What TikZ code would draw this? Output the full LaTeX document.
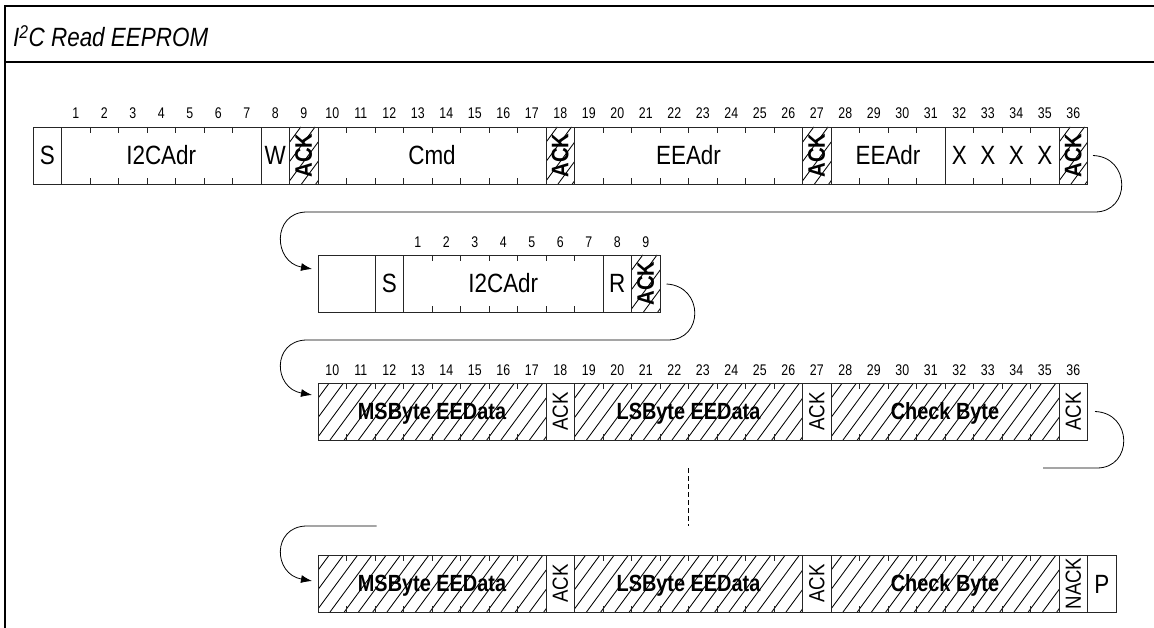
\documentclass[tikz,border=0pt]{standalone}
\usepackage{fontspec}
\usepackage{graphicx}
\usetikzlibrary{arrows.meta}
\newfontfamily\nf[FakeStretch=0.85]{Liberation Sans}
\newfontfamily\nfn[FakeStretch=0.8]{Liberation Sans}

% field cell: name, first bit, last bit, top y, text, style
\newcommand\fld[6]{%
  \node[cellbox,#6,minimum width={28.5bp*(#3-#2+1)}] (#1) at ({33+14.25*(#2+#3+1)},{#4+28.5}) {#5};}
% bit ticks inside a field: first bit, last bit, top y
\newcommand\bitticks[3]{%
  \pgfmathtruncatemacro\tfirst{#1+1}%
  \foreach \b in {\tfirst,...,#2} {%
    \draw[tick] ({33+28.5*\b},#3) -- ++(0,6);
    \draw[tick] ({33+28.5*\b},{#3+57}) -- ++(0,-6);
  }}
% hatching: first bit, last bit, top y
\newcommand\hatch[3]{%
  \begin{scope}
    \clip ({33+28.5*#1},#3) rectangle ({33+28.5*(#2+1)},{#3+57});
    \foreach \k in {0,...,24}
      \draw[hatchline] ({33+28.5*#1-45+14.25*\k},{#3+57}) -- ++(42,-57);
  \end{scope}}

\begin{document}
\begin{tikzpicture}[x=1bp,y=-1bp,
  cellbox/.style={draw=black!85, line width=0.9bp, inner sep=0pt, minimum height=57bp},
  lbl/.style={font=\nf\fontsize{26.5}{26.5}\selectfont, text height=19bp, text depth=0pt},
  blbl/.style={font=\nf\bfseries\fontsize{23.5}{23.5}\selectfont, text height=16.8bp, text depth=0pt},
  ackr/.style={font=\nf\fontsize{22}{22}\selectfont},
  ackb/.style={font=\nf\bfseries\fontsize{24}{24}\selectfont},
  num/.style={font=\nfn\fontsize{15.5}{15.5}\selectfont, text height=11bp, text depth=0pt, inner sep=0pt},
  tick/.style={draw=black!85, line width=0.9bp},
  hatchline/.style={draw=black, line width=0.85bp},
  conn/.style={draw=black, line width=0.8bp},
  arr/.style={-{Latex[length=11bp,width=8bp]}},
  frame/.style={draw=black, line width=2bp}]
\useasboundingbox (0,0) rectangle (1154,628);

% frame and title
\draw[frame] (5,628) -- (5,6.5) -- (1154,6.5);
\draw[frame] (5,62) -- (1154,62);
\node[anchor=base west, inner sep=0pt, font=\nf\itshape\fontsize{26.5}{26.5}\selectfont] (title) at (13,47) {I\textsuperscript{2}C Read EEPROM};

% ---------- Row 1 ----------
\foreach \i in {9,18,27,36} {\hatch{\i}{\i}{127}}
\fld{r1s}{0}{0}{127}{S}{lbl}
\fld{r1adr}{1}{7}{127}{I2CAdr}{lbl}
\fld{r1w}{8}{8}{127}{W}{lbl}
\fld{r1ackA}{9}{9}{127}{\rotatebox{90}{ACK}}{ackb}
\fld{r1cmd}{10}{17}{127}{Cmd}{lbl}
\fld{r1ackB}{18}{18}{127}{\rotatebox{90}{ACK}}{ackb}
\fld{r1eeA}{19}{26}{127}{EEAdr}{lbl}
\fld{r1ackC}{27}{27}{127}{\rotatebox{90}{ACK}}{ackb}
\fld{r1eeB}{28}{31}{127}{EEAdr}{lbl}
\fld{r1xx}{32}{35}{127}{}{}
\fld{r1ackD}{36}{36}{127}{\rotatebox{90}{ACK}}{ackb}
\foreach \i in {32,...,35} {\node[lbl, inner sep=0pt] (x\i) at ({33+28.5*(\i+0.5)},155.5) {X};}
\bitticks{1}{7}{127}
\bitticks{10}{17}{127}
\bitticks{19}{26}{127}
\bitticks{28}{31}{127}
\bitticks{32}{35}{127}
\foreach \k in {1,...,36} {\node[num] (na\k) at ({33+28.5*(\k+0.5)},113) {\k};}

% ---------- Row 2 ----------
\hatch{21}{21}{255}
\fld{r2blank}{10}{11}{255}{}{}
\fld{r2s}{12}{12}{255}{S}{lbl}
\fld{r2adr}{13}{19}{255}{I2CAdr}{lbl}
\fld{r2r}{20}{20}{255}{R}{lbl}
\fld{r2ack}{21}{21}{255}{\rotatebox{90}{ACK}}{ackb}
\bitticks{13}{19}{255}
\foreach \k in {1,...,9} {\node[num] (nb\k) at ({33+28.5*(\k+12.5)},242) {\k};}

% ---------- Row 3 ----------
\hatch{10}{17}{383}
\hatch{19}{26}{383}
\hatch{28}{35}{383}
\fld{r3ms}{10}{17}{383}{MSByte EEData}{blbl}
\fld{r3ackA}{18}{18}{383}{\rotatebox{90}{ACK}}{ackr}
\fld{r3ls}{19}{26}{383}{LSByte EEData}{blbl}
\fld{r3ackB}{27}{27}{383}{\rotatebox{90}{ACK}}{ackr}
\fld{r3cb}{28}{35}{383}{Check Byte}{blbl}
\fld{r3ackC}{36}{36}{383}{\rotatebox{90}{ACK}}{ackr}
\bitticks{10}{17}{383}
\bitticks{19}{26}{383}
\bitticks{28}{35}{383}
\foreach \k in {10,...,36} {\node[num] (nc\k) at ({33+28.5*(\k+0.5)},369.5) {\k};}

% ---------- Row 4 ----------
\hatch{10}{17}{555}
\hatch{19}{26}{555}
\hatch{28}{35}{555}
\fld{r4ms}{10}{17}{555}{MSByte EEData}{blbl}
\fld{r4ackA}{18}{18}{555}{\rotatebox{90}{ACK}}{ackr}
\fld{r4ls}{19}{26}{555}{LSByte EEData}{blbl}
\fld{r4ackB}{27}{27}{555}{\rotatebox{90}{ACK}}{ackr}
\fld{r4cb}{28}{35}{555}{Check Byte}{blbl}
\fld{r4nack}{36}{36}{555}{\rotatebox{90}{NACK}}{ackr}
\fld{r4p}{37}{37}{555}{P}{lbl}
\bitticks{10}{17}{555}
\bitticks{19}{26}{555}
\bitticks{28}{35}{555}

% ---------- connectors ----------
\coordinate (c1s) at (1093,155.5);
\coordinate (c1e) at (312,269);
\draw[conn,arr] (c1s) .. controls (1131,157) and (1131,212) .. (1095,212)
  -- (306,212) .. controls (272,213) and (273,262) .. (c1e);

\coordinate (c2s) at (666.5,284);
\coordinate (c2e) at (312,395);
\draw[conn,arr] (c2s) .. controls (704,286) and (704,340) .. (668,340)
  -- (306,340) .. controls (272,341) and (273,388) .. (c2e);

\coordinate (c3s) at (1095,411.5);
\coordinate (c3e) at (1043,468);
\draw[conn] (c3s) .. controls (1133,413) and (1133,468) .. (1097,468) -- (c3e);

\coordinate (c4s) at (376.5,526);
\coordinate (c4e) at (312,581);
\draw[conn,arr] (c4s) -- (306,526) .. controls (272,527) and (273,574) .. (c4e);

\coordinate (dA) at (688,468);
\coordinate (dB) at (688,526);
\draw[conn, line width=0.6bp, dash pattern=on 5bp off 3bp] (dA) -- (dB);
\end{tikzpicture}
\end{document}
